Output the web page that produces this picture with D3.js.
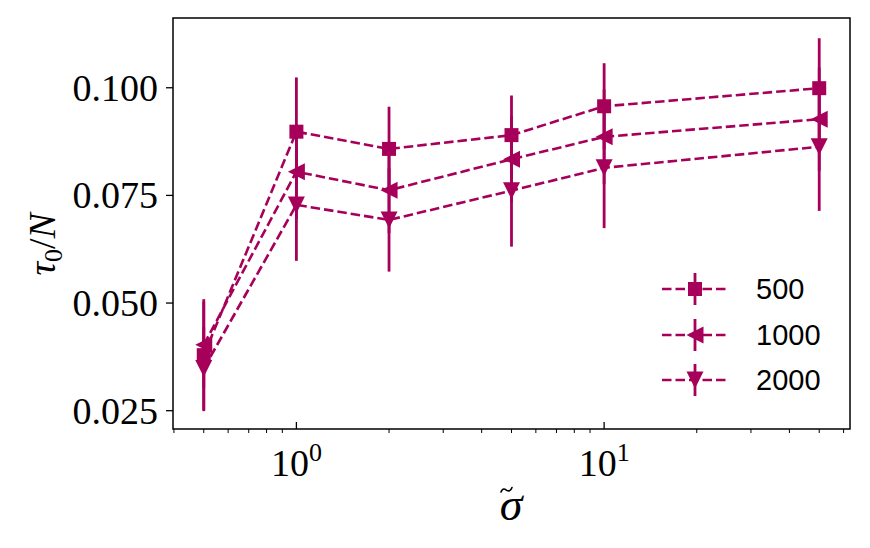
<!DOCTYPE html>
<html>
<head>
<meta charset="utf-8">
<script src="https://cdn.jsdelivr.net/npm/d3@7"></script>
<style>
  body { margin: 0; background: #fff; }
</style>
</head>
<body>
<svg id="chart" width="870" height="548"></svg>
<script>
// data
const sigma = [0.5, 1, 2, 5, 10, 50];
const tau500 = [0.0379, 0.0898, 0.0858, 0.0890, 0.0957, 0.0999];
const err500 = [0.0130, 0.0126, 0.0098, 0.0092, 0.0100, 0.0116];
const tau1000 = [0.0403, 0.0805, 0.0762, 0.0834, 0.0886, 0.0927];
const err1000 = [0.0100, 0.0110, 0.0100, 0.0100, 0.0110, 0.0120];
const tau2000 = [0.0348, 0.0728, 0.0693, 0.0761, 0.0814, 0.0863];
const err2000 = [0.0096, 0.0130, 0.0120, 0.0130, 0.0140, 0.0149];
const seriesNames = ["500", "1000", "2000"];
const yTicks = [0.025, 0.050, 0.075, 0.100];
const xMajor = [1, 10];

const color = "#a6005b";
const plotLeft = 173, plotRight = 850, plotTop = 18, plotBottom = 429;

const svg = d3.select("#chart");

const x = d3.scaleLog().domain([Math.pow(10, -0.401), Math.pow(10, 1.799)]).range([plotLeft, plotRight]);
const y = d3.scaleLinear().domain([0.02075, 0.1162]).range([plotBottom, plotTop]);

const series = [
  {name: seriesNames[0], vals: tau500, errs: err500, marker: "square"},
  {name: seriesNames[1], vals: tau1000, errs: err1000, marker: "left"},
  {name: seriesNames[2], vals: tau2000, errs: err2000, marker: "down"}
];

function markerPath(type) {
  const p = d3.path();
  if (type === "square") {
    const s = 7;
    p.rect(-s, -s, 2 * s, 2 * s);
  } else if (type === "left") {
    const s = 8.5;
    p.moveTo(-s, 0); p.lineTo(s, -s); p.lineTo(s, s); p.closePath();
  } else {
    const s = 8.5;
    p.moveTo(0, s); p.lineTo(-s, -s); p.lineTo(s, -s); p.closePath();
  }
  return p.toString();
}

// plot area
const plot = svg.append("g");
const line = d3.line().x(d => x(d.x)).y(d => y(d.y));

series.forEach(s => {
  const pts = sigma.map((v, i) => ({x: v, y: s.vals[i], e: s.errs[i]}));
  const g = plot.append("g");
  g.append("path")
    .attr("d", line(pts))
    .attr("fill", "none")
    .attr("stroke", color)
    .attr("stroke-width", 2.6)
    .attr("stroke-dasharray", "9.5,4");
  g.selectAll(".eb").data(pts).join("line")
    .attr("x1", d => x(d.x)).attr("x2", d => x(d.x))
    .attr("y1", d => y(d.y - d.e)).attr("y2", d => y(d.y + d.e))
    .attr("stroke", color)
    .attr("stroke-width", 2.8);
  g.selectAll(".mk").data(pts).join("path")
    .attr("d", markerPath(s.marker))
    .attr("transform", d => `translate(${x(d.x)},${y(d.y)})`)
    .attr("fill", color);
});

// frame
svg.append("rect")
  .attr("x", plotLeft).attr("y", plotTop)
  .attr("width", plotRight - plotLeft).attr("height", plotBottom - plotTop)
  .attr("fill", "none").attr("stroke", "#000").attr("stroke-width", 1.5);

// y ticks
const yAxis = svg.append("g");
yTicks.forEach(t => {
  yAxis.append("line")
    .attr("x1", plotLeft - 7).attr("x2", plotLeft)
    .attr("y1", y(t)).attr("y2", y(t))
    .attr("stroke", "#000").attr("stroke-width", 1.3);
  yAxis.append("text")
    .attr("x", plotLeft - 15).attr("y", y(t))
    .attr("dy", "0.34em")
    .attr("text-anchor", "end")
    .attr("font-family", "Liberation Serif, serif")
    .attr("font-size", 38)
    .text(d3.format(".3f")(t));
});

// x ticks (major inward, minor outward)
const xAxis = svg.append("g");
const minors = [];
[0.1, 1, 10].forEach(dec => {
  for (let k = 2; k <= 9; k++) {
    const v = dec * k;
    if (x(v) >= plotLeft - 0.5 && x(v) <= plotRight + 0.5) minors.push(v);
  }
});
minors.forEach(v => {
  xAxis.append("line")
    .attr("x1", x(v)).attr("x2", x(v))
    .attr("y1", plotBottom).attr("y2", plotBottom + 4)
    .attr("stroke", "#000").attr("stroke-width", 1);
});
xMajor.forEach(v => {
  xAxis.append("line")
    .attr("x1", x(v)).attr("x2", x(v))
    .attr("y1", plotBottom - 7).attr("y2", plotBottom)
    .attr("stroke", "#000").attr("stroke-width", 1.3);
  const t = xAxis.append("text")
    .attr("x", x(v)).attr("y", 476)
    .attr("text-anchor", "middle")
    .attr("font-family", "Liberation Serif, serif")
    .attr("font-size", 38);
  t.append("tspan").text("10");
  t.append("tspan").attr("font-size", 26).attr("dy", -15).text(String(Math.round(Math.log10(v))));
});

// x label: italic sigma, tilde accent drawn as a small stroke above it
svg.append("text")
  .attr("x", 511).attr("y", 520)
  .attr("text-anchor", "middle")
  .attr("font-family", "Liberation Serif, serif")
  .attr("font-style", "italic")
  .attr("font-size", 46)
  .text("σ");
const tl = d3.path();
tl.moveTo(501, 492);
tl.bezierCurveTo(503, 486.5, 506, 490, 507, 490.5);
tl.bezierCurveTo(508.5, 491.2, 510.5, 491.5, 512, 487.5);
svg.append("path")
  .attr("d", tl.toString())
  .attr("fill", "none")
  .attr("stroke", "#000")
  .attr("stroke-width", 1.6)
  .attr("stroke-linecap", "round");

// y label, centred on its ink box
const yl = svg.append("text")
  .attr("font-family", "Liberation Serif, serif")
  .attr("font-size", 38);
yl.append("tspan").attr("font-style", "italic").text("τ");
yl.append("tspan").attr("font-size", 26).attr("dy", 7).text("0");
yl.append("tspan").attr("dy", -7).text("/");
yl.append("tspan").attr("font-style", "italic").text("N");
const bb = yl.node().getBBox();
const cx = bb.x + bb.width / 2, cy = bb.y + bb.height / 2;
yl.attr("transform", `translate(44,243) rotate(-90) translate(${-cx},${-cy})`);

// legend
const legend = svg.append("g");
const rowY = [289, 335, 380];
series.forEach((s, i) => {
  const g = legend.append("g").attr("transform", `translate(0,${rowY[i]})`);
  g.append("line")
    .attr("x1", 662).attr("x2", 728).attr("y1", 0).attr("y2", 0)
    .attr("stroke", color).attr("stroke-width", 2.6)
    .attr("stroke-dasharray", "9.5,4");
  g.append("line")
    .attr("x1", 695).attr("x2", 695).attr("y1", -16).attr("y2", 16)
    .attr("stroke", color).attr("stroke-width", 2.8);
  g.append("path")
    .attr("d", markerPath(s.marker))
    .attr("transform", "translate(695,0)")
    .attr("fill", color);
  g.append("text")
    .attr("x", 756).attr("y", 0).attr("dy", "0.36em")
    .attr("font-family", "Liberation Sans, sans-serif")
    .attr("font-size", 29)
    .text(s.name);
});
</script>
</body>
</html>
